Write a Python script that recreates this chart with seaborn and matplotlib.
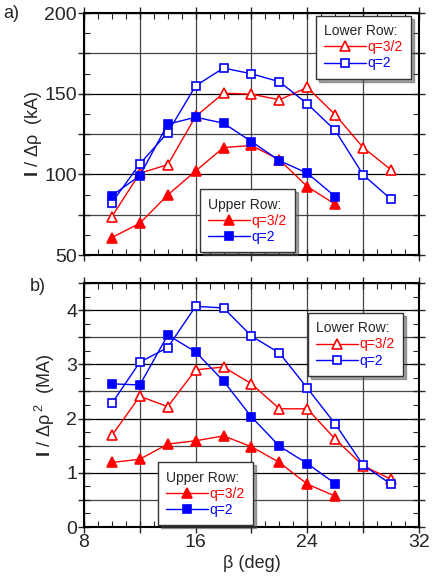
import pandas as pd
import matplotlib.pyplot as plt
import seaborn as sns
from matplotlib.ticker import MultipleLocator, FuncFormatter

# =========================
# DATA
# =========================
beta = [10, 12, 14, 16, 18, 20, 22, 24, 26, 28, 30]
beta_upper = [10, 12, 14, 16, 18, 20, 22, 24, 26]

# a) I / drho (kA)
a_lower_q32 = [73.8, 100.7, 106.0, 135.9, 150.3, 149.7, 146.2, 153.9, 136.9, 116.6, 102.8]
a_lower_q2 = [82.5, 106.5, 125.9, 154.9, 165.9, 162.3, 157.4, 143.7, 127.2, 99.7, 84.5]
a_upper_q32 = [60.8, 69.7, 87.2, 102.1, 116.6, 117.9, 109.0, 92.4, 81.4]
a_upper_q2 = [86.8, 99.2, 131.1, 135.4, 131.7, 120.3, 108.5, 100.7, 86.2]

# b) I / drho^2 (MA)
b_lower_q32 = [1.69, 2.41, 2.22, 2.90, 2.95, 2.64, 2.18, 2.18, 1.62, 1.13, 0.88]
b_lower_q2 = [2.28, 3.04, 3.31, 4.07, 4.04, 3.52, 3.21, 2.56, 1.90, 1.14, 0.79]
b_upper_q32 = [1.19, 1.25, 1.53, 1.59, 1.68, 1.48, 1.19, 0.79, 0.57]
b_upper_q2 = [2.64, 2.62, 3.54, 3.23, 2.69, 2.03, 1.49, 1.17, 0.80]

RED = "#ff0000"
BLUE = "#0000ff"

sns.set_style("ticks")
plt.rcParams["font.family"] = ["Liberation Sans", "DejaVu Sans"]
plt.rcParams["mathtext.fontset"] = "custom"
plt.rcParams["mathtext.rm"] = "Liberation Sans"
plt.rcParams["mathtext.it"] = "Liberation Sans"
plt.rcParams["mathtext.bf"] = "Liberation Sans:bold"

fig = plt.figure(figsize=(4.33, 5.81), dpi=100)
W, H = 433, 581
ax1 = fig.add_axes([84 / W, 1 - 255 / H, 335 / W, 242 / H])
ax2 = fig.add_axes([84 / W, 1 - 527 / H, 335 / W, 244 / H])


def draw(ax, xs, ys, color, marker, filled, ms, label):
    df = pd.DataFrame({"beta": xs, "val": ys})
    sns.lineplot(data=df, x="beta", y="val", ax=ax, color=color, lw=1.0,
                 marker=marker, markersize=ms,
                 markerfacecolor=color if filled else "white",
                 markeredgecolor=color, markeredgewidth=1.2,
                 label=label, legend=False, zorder=3)


def style_axes(ax, ymin, ymax, ymajor, yminor, ylab_step, show_x):
    ax.set_xlim(8, 32)
    ax.set_ylim(ymin, ymax)
    ax.xaxis.set_major_locator(MultipleLocator(4))
    ax.xaxis.set_minor_locator(MultipleLocator(1))
    ax.yaxis.set_major_locator(MultipleLocator(ymajor))
    ax.yaxis.set_minor_locator(MultipleLocator(yminor))
    ax.xaxis.set_major_formatter(FuncFormatter(
        lambda v, p: f"{int(round(v))}" if (show_x and round(v) % 8 == 0) else ""))
    ax.yaxis.set_major_formatter(FuncFormatter(
        lambda v, p: f"{v:g}" if abs(v / ylab_step - round(v / ylab_step)) < 1e-6 else ""))
    ax.grid(True, which="major", color="#444444", lw=0.9, zorder=0)
    for g, v in zip(ax.get_ygridlines(), ax.get_yticks()):
        if abs(v / ylab_step - round(v / ylab_step)) < 1e-6:
            g.set_color("black")
    ax.tick_params(which="major", direction="inout", length=8, width=1.0,
                   labelsize=14, top=True, right=True, pad=1)
    ax.tick_params(which="minor", direction="in", length=4, width=0.8,
                   top=True, right=True)
    for s in ax.spines.values():
        s.set_linewidth(1.5)
        s.set_color("black")
    ax.set_xlabel("")


def add_legend(ax, handles, title, loc, anchor):
    leg = ax.legend(handles=handles, title=title, loc=loc, bbox_to_anchor=anchor,
                    borderaxespad=0, fancybox=False, shadow=True, fontsize=10,
                    title_fontsize=10, labelcolor="linecolor", handlelength=3.0,
                    handletextpad=0.1, borderpad=0.6, labelspacing=0.15,
                    framealpha=1, edgecolor="#333333")
    leg.get_frame().set_linewidth(1.0)
    leg._legend_box.align = "left"
    leg.set_zorder(5)
    return leg


# =========================
# PANEL a)
# =========================
draw(ax1, beta, a_lower_q32, RED, "^", False, 7, "q=3/2")
draw(ax1, beta, a_lower_q2, BLUE, "s", False, 5.5, "q=2")
draw(ax1, beta_upper, a_upper_q32, RED, "^", True, 7, "q=3/2")
draw(ax1, beta_upper, a_upper_q2, BLUE, "s", True, 5.5, "q=2")
style_axes(ax1, 50, 200, 25, 12.5, 50, False)
ax1.set_ylabel(r"$\mathbf{I}$ / Δρ  (kA)", fontsize=13)
ax1.yaxis.set_label_coords(-0.12, 0.5)
lines1 = [l for l in ax1.lines if l.get_label() in ("q=3/2", "q=2")]
l1 = add_legend(ax1, lines1[:2], "Lower Row:", "upper right", (0.976, 0.988))
ax1.add_artist(l1)
add_legend(ax1, lines1[2:], "Upper Row:", "lower left", (0.346, 0.012))

# =========================
# PANEL b)
# =========================
draw(ax2, beta, b_lower_q32, RED, "^", False, 7, "q=3/2")
draw(ax2, beta, b_lower_q2, BLUE, "s", False, 5.5, "q=2")
draw(ax2, beta_upper, b_upper_q32, RED, "^", True, 7, "q=3/2")
draw(ax2, beta_upper, b_upper_q2, BLUE, "s", True, 5.5, "q=2")
style_axes(ax2, 0, 4.5, 0.5, 0.25, 1, True)
ax2.set_ylabel(r"$\mathbf{I}$ / Δρ$^{\ 2}$  (MA)", fontsize=13)
ax2.yaxis.set_label_coords(-0.08, 0.5)
ax2.set_xlabel("β (deg)", fontsize=13, labelpad=3)
lines2 = [l for l in ax2.lines if l.get_label() in ("q=3/2", "q=2")]
l2 = add_legend(ax2, lines2[:2], "Lower Row:", "upper right", (0.952, 0.877))
ax2.add_artist(l2)
add_legend(ax2, lines2[2:], "Upper Row:", "lower left", (0.221, 0.008))

fig.text(3 / W, 1 - 14 / H, "a)", fontsize=13, va="center", ha="left")
fig.text(30 / W, 1 - 287 / H, "b)", fontsize=13, va="center", ha="left")

plt.savefig("out.png", dpi=100)
